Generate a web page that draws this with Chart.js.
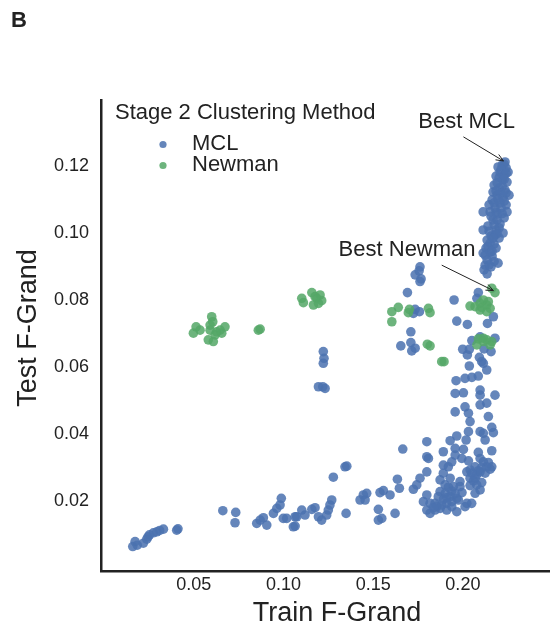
<!DOCTYPE html>
<html>
<head>
<meta charset="utf-8">
<script src="https://cdn.jsdelivr.net/npm/chart.js@4.4.1/dist/chart.umd.min.js"></script>
<style>
  html, body { margin: 0; padding: 0; background: #fff; }
  #wrap { position: relative; width: 559px; height: 631px; }
</style>
</head>
<body>
<div id="wrap"><canvas id="grafico"></canvas></div>
<script>
// Datos (Train F-Grand, Test F-Grand)
const seriesNames = ['MCL', 'Newman'];
const legendTitle = 'Stage 2 Clustering Method';
const xTicks = [0.05, 0.10, 0.15, 0.20];
const yTicks = [0.02, 0.04, 0.06, 0.08, 0.10, 0.12];

const mclLow = [
  [0.0160,0.0064],[0.0173,0.0079],[0.0185,0.0068],[0.0219,0.0074],[0.0238,0.0086],[0.0245,0.0093],
  [0.0253,0.0099],[0.0275,0.0105],[0.0294,0.0108],[0.0310,0.0112],[0.0331,0.0116],[0.0405,0.0113],
  [0.0412,0.0117],[0.0662,0.0171],[0.0734,0.0166],[0.0730,0.0135],[0.0851,0.0133],[0.0870,0.0143],
  [0.0888,0.0150],[0.0907,0.0128],[0.0944,0.0163],[0.0963,0.0178],[0.0981,0.0188],[0.0988,0.0208],
  [0.0999,0.0148],[0.1055,0.0123],[0.1074,0.0153],[0.1018,0.0148],[0.1065,0.0153],[0.1065,0.0125],
  [0.1102,0.0173],[0.1120,0.0158],[0.1158,0.0175],[0.1176,0.0180],[0.1195,0.0153],[0.1213,0.0143],
  [0.1241,0.0158],[0.1250,0.0173],[0.1259,0.0188],[0.1269,0.0203],[0.1278,0.0271],[0.1343,0.0302],
  [0.1353,0.0304],[0.1349,0.0163],[0.1427,0.0203],[0.1445,0.0218],[0.1455,0.0203],[0.1464,0.0223],
  [0.1529,0.0175],[0.1529,0.0143],[0.1538,0.0225],[0.1557,0.0231],[0.1548,0.0148],[0.1594,0.0218],
  [0.1622,0.0163],[0.1635,0.0265],[0.1646,0.0238],[0.1665,0.0355]
];
const mclElbow = [
  [0.1957,0.0521],[0.2003,0.0523],[0.2096,0.0516],[0.2179,0.0516],[0.1957,0.0466],[0.2012,0.0481],
  [0.2031,0.0462],[0.2096,0.0487],[0.2133,0.0492],[0.2142,0.0452],[0.2040,0.0437],[0.2031,0.0407],
  [0.2096,0.0407],[0.2114,0.0402],[0.2170,0.0404],[0.2124,0.0382],[0.1966,0.0394],[0.2018,0.0382],
  [0.1929,0.0380],[0.1799,0.0377],[0.1957,0.0357],[0.2003,0.0354],[0.1891,0.0347],[0.2161,0.0350],
  [0.1799,0.0332],[0.1808,0.0327],[0.1957,0.0337],[0.1994,0.0327],[0.2031,0.0320],[0.1938,0.0317],
  [0.1891,0.0307],[0.1919,0.0302],[0.2096,0.0327],[0.2114,0.0317],[0.2133,0.0302],[0.2161,0.0302],
  [0.2068,0.0302],[0.2040,0.0293],[0.2022,0.0287],[0.2096,0.0287],[0.2124,0.0283],[0.2077,0.0278],
  [0.1799,0.0287],[0.1891,0.0283],[0.1873,0.0263],[0.1929,0.0268],[0.1984,0.0258],[0.2040,0.0268],
  [0.2068,0.0268],[0.1761,0.0268],[0.1743,0.0248],[0.1724,0.0235],[0.1901,0.0248],[0.1919,0.0241],
  [0.1947,0.0243],[0.1984,0.0243],[0.2077,0.0248],[0.2096,0.0233],[0.2068,0.0223],[0.1873,0.0228],
  [0.1901,0.0223],[0.1863,0.0213],[0.1929,0.0213],[0.1966,0.0208],[0.1799,0.0218],[0.1780,0.0198],
  [0.1817,0.0193],[0.1845,0.0193],[0.1882,0.0188],[0.1910,0.0193],[0.1938,0.0198],[0.1975,0.0203],
  [0.2022,0.0193],[0.2049,0.0193],[0.2012,0.0183],[0.1799,0.0173],[0.1817,0.0163],[0.1845,0.0173],
  [0.1873,0.0178],[0.1910,0.0173],[0.1966,0.0168],
  [0.2105,0.0300],[0.2152,0.0295],[0.2086,0.0290],[0.2142,0.0315],[0.2050,0.0283],[0.2059,0.0260],
  [0.1938,0.0230],[0.1957,0.0222],[0.1892,0.0205],[0.1910,0.0210],[0.1855,0.0185],[0.1836,0.0180],
  [0.1938,0.0183],[0.1995,0.0225],[0.2040,0.0246],[0.2105,0.0255],[0.2086,0.0345],[0.2161,0.0420]
];
const mclMid = [
  [0.1761,0.0855],[0.1691,0.0822],[0.2086,0.0822],[0.2078,0.0805],[0.1951,0.0800],[0.1734,0.0772],
  [0.1758,0.0765],[0.1724,0.0760],[0.2170,0.0750],[0.1966,0.0737],[0.2025,0.0727],[0.2137,0.0730],
  [0.1710,0.0705],[0.1654,0.0663],[0.1710,0.0673],[0.1715,0.0648],[0.1734,0.0656],[0.2050,0.0679],
  [0.2096,0.0690],[0.2179,0.0686],[0.1999,0.0653],[0.2036,0.0653],[0.2025,0.0636],[0.2118,0.0654],
  [0.2157,0.0646],[0.2092,0.0629],[0.2105,0.0616],[0.2114,0.0611],[0.2133,0.0591],[0.2036,0.0603],
  [0.1962,0.0559],[0.2012,0.0566],[0.2050,0.0569],[0.2086,0.0573],[0.2096,0.0531],
  [0.1761,0.0899],[0.1756,0.0887],[0.1734,0.0875],[0.1767,0.0863],
  [0.1222,0.0646],[0.1226,0.0626],[0.1222,0.0611],[0.1219,0.0541],[0.1232,0.0536],[0.1195,0.0541]
];
const mclTop = [
  [0.2235,0.1212],[0.2219,0.1203],[0.2196,0.1197],[0.2241,0.1194],[0.2207,0.1182],[0.2230,0.1173],
  [0.2185,0.1170],[0.2219,0.1158],[0.2246,0.1152],[0.2174,0.1143],[0.2202,0.1134],[0.2235,0.1128],
  [0.2191,0.1113],[0.2224,0.1107],[0.2163,0.1099],[0.2207,0.1090],[0.2241,0.1084],[0.2179,0.1075],
  [0.2152,0.1063],[0.2113,0.1063],[0.2196,0.1057],[0.2230,0.1045],[0.2168,0.1039],[0.2207,0.1027],
  [0.2140,0.1021],[0.2185,0.1009],[0.2224,0.1000],[0.2113,0.1009],[0.2157,0.0991],[0.2202,0.0985],
  [0.2135,0.0979],[0.2174,0.0967],[0.2129,0.0955],[0.2152,0.0943],[0.2113,0.0940],[0.2163,0.0931],
  [0.2124,0.0904],[0.2157,0.0899],[0.2196,0.0910],[0.2118,0.0890],[0.2135,0.0878],[0.2252,0.1182],
  [0.2168,0.1122],[0.2257,0.1113],[0.2146,0.1084],[0.2246,0.1063],[0.2179,0.0994],[0.2219,0.1140],
  [0.2191,0.1039],[0.2152,0.0970],[0.2124,0.0934],
  [0.2230,0.1205],[0.2213,0.1190],[0.2241,0.1178],[0.2202,0.1165],[0.2230,0.1160],[0.2191,0.1150],
  [0.2213,0.1120],[0.2241,0.1120],[0.2185,0.1125],[0.2196,0.1100],[0.2230,0.1095],[0.2174,0.1090],
  [0.2213,0.1075],[0.2185,0.1062],[0.2157,0.1050],[0.2219,0.1058],[0.2174,0.1025],[0.2202,0.1015],
  [0.2146,0.1005],[0.2191,0.0998],[0.2168,0.0985],[0.2140,0.0960],[0.2185,0.0955],[0.2163,0.0945],
  [0.2135,0.0920],[0.2174,0.0915],[0.2146,0.0905]
];
const newmanPoints = [
  [0.0498,0.0701],[0.0513,0.0720],[0.0535,0.0710],[0.0581,0.0681],[0.0591,0.0710],[0.0600,0.0750],
  [0.0606,0.0735],[0.0619,0.0696],[0.0628,0.0705],[0.0647,0.0710],[0.0656,0.0701],[0.0674,0.0720],
  [0.0609,0.0676],[0.0591,0.0725],[0.0860,0.0710],[0.0870,0.0713],
  [0.1102,0.0805],[0.1111,0.0792],[0.1158,0.0822],[0.1167,0.0785],[0.1186,0.0805],[0.1195,0.0790],
  [0.1204,0.0815],[0.1213,0.0798],[0.1176,0.0810],
  [0.1604,0.0765],[0.1604,0.0735],[0.1640,0.0778],[0.1696,0.0762],[0.1702,0.0772],[0.1808,0.0775],
  [0.1817,0.0762],[0.1802,0.0668],[0.1817,0.0663],[0.1882,0.0616],[0.1895,0.0616],
  [0.2161,0.0835],[0.2179,0.0822],[0.2040,0.0782],[0.2068,0.0780],[0.2096,0.0790],[0.2114,0.0800],
  [0.2133,0.0785],[0.2152,0.0775],[0.2096,0.0770],[0.2133,0.0765],[0.2142,0.0795],[0.2105,0.0778],
  [0.2086,0.0684],[0.2114,0.0686],[0.2133,0.0681],[0.2161,0.0676],[0.2078,0.0666],[0.2152,0.0666],
  [0.2114,0.0676]
];

// Anotaciones: texto, posicion del texto, inicio y punta de la flecha (coordenadas de datos)
const notes = [
  { text: 'Best MCL', at: [0.2021, 0.1333], from: [0.2003, 0.1287], to: [0.2226, 0.1215] },
  { text: 'Best Newman', at: [0.1689, 0.0949], from: [0.1882, 0.0904], to: [0.2170, 0.0828] }
];

const BLUE = 'rgba(76, 114, 176, 0.86)';
const GREEN = 'rgba(85, 168, 104, 0.86)';
const INK = '#222';
const FONT = '"Liberation Sans", Arial, sans-serif';

const toXY = p => ({ x: p[0], y: p[1] });
const mclData = [...mclLow, ...mclElbow, ...mclMid, ...mclTop].map(toXY);
const newmanData = newmanPoints.map(toXY);

// Texto extra: letra del panel, titulos de ejes, leyenda, anotaciones
const decoPlugin = {
  id: 'deco',
  afterDraw(chart) {
    const { ctx, chartArea: ca, scales: { x, y } } = chart;
    ctx.save();
    ctx.fillStyle = INK;
    ctx.strokeStyle = INK;

    ctx.font = 'bold 22px ' + FONT;
    ctx.textAlign = 'left';
    ctx.textBaseline = 'middle';
    ctx.fillText('B', 11, 21);

    // titulos de ejes
    ctx.font = '27px ' + FONT;
    ctx.textAlign = 'center';
    ctx.fillText('Train F-Grand', 337, 614);
    ctx.save();
    ctx.translate(29, 328);
    ctx.rotate(-Math.PI / 2);
    ctx.fillText('Test F-Grand', 0, 0);
    ctx.restore();

    // leyenda
    ctx.textAlign = 'left';
    ctx.textBaseline = 'alphabetic';
    ctx.font = '22px ' + FONT;
    ctx.fillText(legendTitle, ca.left + 14, 119);
    [BLUE, GREEN].forEach((c, i) => {
      const cy = 144.5 + i * 21;
      ctx.fillStyle = c;
      ctx.beginPath();
      ctx.arc(ca.left + 62, cy, 3.6, 0, Math.PI * 2);
      ctx.fill();
      ctx.fillStyle = INK;
      ctx.fillText(seriesNames[i], ca.left + 91, cy + 5 + i * 0.5);
    });

    // anotaciones con flecha
    notes.forEach(n => {
      ctx.font = '22px ' + FONT;
      ctx.textAlign = 'center';
      ctx.textBaseline = 'middle';
      ctx.fillStyle = INK;
      ctx.fillText(n.text, x.getPixelForValue(n.at[0]), y.getPixelForValue(n.at[1]));
      const x0 = x.getPixelForValue(n.from[0]), y0 = y.getPixelForValue(n.from[1]);
      const x1 = x.getPixelForValue(n.to[0]), y1 = y.getPixelForValue(n.to[1]);
      const a = Math.atan2(y1 - y0, x1 - x0);
      ctx.lineWidth = 1;
      ctx.beginPath();
      ctx.moveTo(x0, y0);
      ctx.lineTo(x1, y1);
      ctx.moveTo(x1 - 8 * Math.cos(a - 0.4), y1 - 8 * Math.sin(a - 0.4));
      ctx.lineTo(x1, y1);
      ctx.lineTo(x1 - 8 * Math.cos(a + 0.4), y1 - 8 * Math.sin(a + 0.4));
      ctx.stroke();
    });
    ctx.restore();
  }
};

new Chart(document.getElementById('grafico').getContext('2d'), {
  type: 'scatter',
  data: {
    datasets: [
      { label: seriesNames[0], data: mclData, backgroundColor: BLUE, borderWidth: 0, pointRadius: 4.8, order: 2 },
      { label: seriesNames[1], data: newmanData, backgroundColor: GREEN, borderWidth: 0, pointRadius: 4.8, order: 1 }
    ]
  },
  options: {
    responsive: true,
    maintainAspectRatio: false,
    animation: false,
    layout: { padding: { top: 100, right: 10, left: 0, bottom: 0 } },
    plugins: { legend: { display: false }, tooltip: { enabled: false } },
    scales: {
      x: {
        type: 'linear',
        min: -0.0017,
        max: 0.248,
        grid: { display: false, drawTicks: false },
        border: { display: true, color: INK, width: 2.5 },
        afterBuildTicks: s => { s.ticks = xTicks.map(v => ({ value: v })); },
        afterFit: s => { s.height = 60; },
        ticks: {
          padding: 3,
          color: INK,
          font: { family: FONT, size: 18 },
          callback: v => v.toFixed(2)
        }
      },
      y: {
        type: 'linear',
        min: -0.0009,
        max: 0.1397,
        grid: { display: false, drawTicks: false },
        border: { display: true, color: INK, width: 2.5 },
        afterBuildTicks: s => { s.ticks = yTicks.map(v => ({ value: v })); },
        afterFit: s => { s.width = 101; },
        ticks: {
          padding: 12,
          color: INK,
          font: { family: FONT, size: 18 },
          callback: v => v.toFixed(2)
        }
      }
    }
  },
  plugins: [decoPlugin]
});
</script>
</body>
</html>
